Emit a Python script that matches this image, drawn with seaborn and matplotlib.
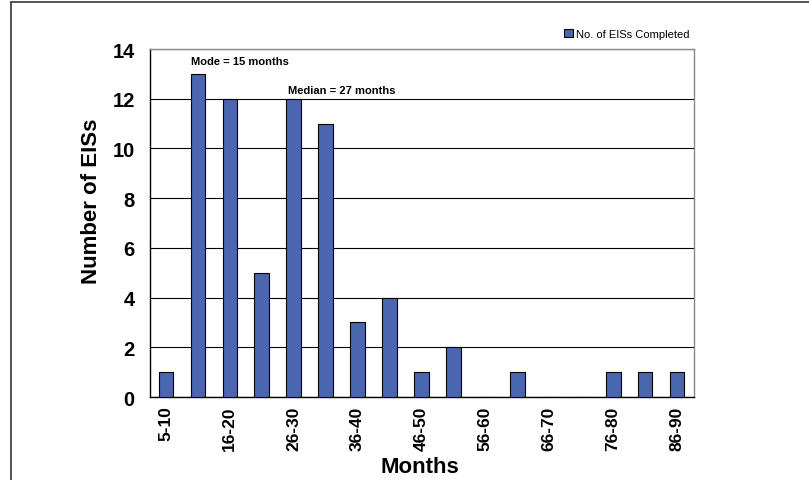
import pandas as pd
import matplotlib.pyplot as plt
import seaborn as sns
from matplotlib.lines import Line2D

# dados
faixas = ['5-10', '11-15', '16-20', '21-25', '26-30', '31-35', '36-40', '41-45', '46-50',
          '51-55', '56-60', '61-65', '66-70', '71-75', '76-80', '81-85', '86-90']
num_eis = [1, 13, 12, 5, 12, 11, 3, 4, 1, 2, 0, 1, 0, 0, 1, 1, 1]
serie = 'No. of EISs Completed'

df = pd.DataFrame({'Faixa': faixas, 'EIS': num_eis, 'Serie': serie})

sns.set_style('white', {'text.color': 'black', 'axes.labelcolor': 'black',
                        'xtick.color': 'black', 'ytick.color': 'black'})
plt.rcParams['font.family'] = ['Liberation Sans', 'DejaVu Sans']

fig = plt.figure(figsize=(8.09, 4.81), dpi=100)
ax = fig.add_axes([150 / 809, 1 - 398 / 481, 544 / 809, 348 / 481])

sns.barplot(data=df, x='Faixa', y='EIS', hue='Serie', palette=['#4a66ae'], saturation=1,
            width=0.46, edgecolor='black', linewidth=0.8, ax=ax, zorder=3)

ax.set_ylim(0, 14)
ax.set_xlim(-0.47, 16.53)
ax.set_yticks(range(0, 15, 2))
ax.yaxis.grid(True, color='black', linewidth=0.8, zorder=0)
ax.set_axisbelow(True)

# rótulos só nas categorias pares, ticks entre as barras
ax.set_xticks(range(0, len(faixas), 2))
ax.set_xticklabels(faixas[::2], rotation=90, fontsize=12.5, fontweight='bold')
ax.set_xticks([i - 0.5 for i in range(len(faixas) + 1)], minor=True)
ax.tick_params(axis='x', which='major', length=0, pad=6)
ax.tick_params(axis='x', which='minor', length=5, width=1, color='black', direction='out')
ax.tick_params(axis='y', length=5, width=1, color='black', direction='out', labelsize=14.5, pad=6)
for t in ax.get_yticklabels():
    t.set_fontweight('bold')

for lado in ['left', 'bottom']:
    ax.spines[lado].set_color('black')
    ax.spines[lado].set_linewidth(1)
for lado in ['top', 'right']:
    ax.spines[lado].set_color('#888888')
    ax.spines[lado].set_linewidth(1)

ax.set_xlabel('Months', fontsize=16, fontweight='bold')
ax.set_ylabel('Number of EISs', fontsize=16, fontweight='bold')
ax.xaxis.set_label_coords(0.496, -0.17)
ax.yaxis.set_label_coords(-0.088, 0.566)

ax.text(0.78, 13.5, 'Mode = 15 months', fontsize=8, fontweight='bold', va='center')
ax.text(3.81, 12.35, 'Median = 27 months', fontsize=8, fontweight='bold', va='center')

ax.legend(loc='center right', bbox_to_anchor=(1.0, 1.043), frameon=False, fontsize=8,
          handlelength=0.8, handleheight=0.8, handletextpad=0.3, borderaxespad=0)

# moldura externa
fig.add_artist(Line2D([11 / 809, 11 / 809], [0, 1 - 3 / 481], color='#444444', linewidth=1.3))
fig.add_artist(Line2D([11 / 809, 1], [1 - 3 / 481, 1 - 3 / 481], color='#444444', linewidth=1.3))

plt.savefig('out.png', dpi=100)
plt.close()
